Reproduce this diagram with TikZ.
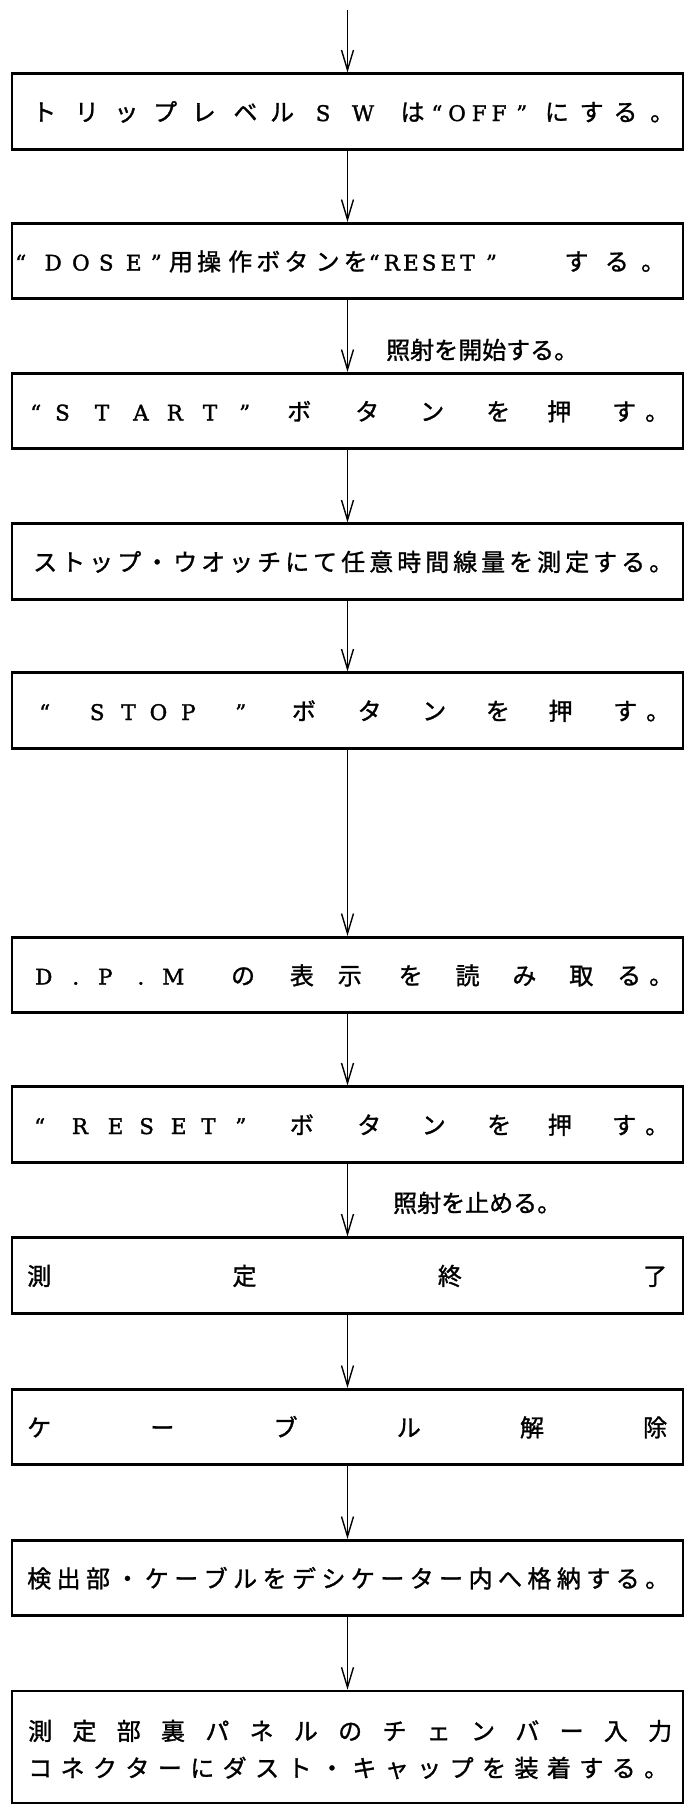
\documentclass[tikz,border=0pt]{standalone}
\usepackage{fontspec}
\setmainfont{Noto Sans CJK JP}[RawFeature={embolden=1.2}]
\newfontfamily\lat{DejaVu Serif}[RawFeature={embolden=1.5}]
\usetikzlibrary{arrows.meta}
\newcommand\G[1]{\hskip 0pt plus #1fil\relax}
\newcommand\la{\fontsize{21.5}{24}\lat}
\tikzset{
  frame/.style={draw, line width=2.6pt, rectangle, minimum width=671pt, minimum height=75.5pt, inner sep=0pt},
  lastframe/.style={frame, minimum height=112pt},
  txt/.style={anchor=base west, inner sep=0pt, font=\fontsize{24}{28}\selectfont},
  conn/.style={line width=1.3pt, -{Straight Barb[length=20pt,width=12pt,line width=1.4pt]}}
}
\begin{document}
\begin{tikzpicture}[x=1pt,y=-1pt]
\useasboundingbox (0,0) rectangle (684,1808);
\fill[white] (0,0) rectangle (684,1808);
% frames
\node[frame] (b1) at (347.5,111.5) {};
\node[frame] (b2) at (347.5,261) {};
\node[frame] (b3) at (347.5,411) {};
\node[frame] (b4) at (347.5,561.5) {};
\node[frame] (b5) at (347.5,710.5) {};
\node[frame] (b6) at (347.5,975) {};
\node[frame] (b7) at (347.5,1124.5) {};
\node[frame] (b8) at (347.5,1275.5) {};
\node[frame] (b9) at (347.5,1427) {};
\node[frame] (b10) at (347.5,1578) {};
\node[lastframe] (b11) at (347.5,1747) {};
% texts
\node[txt] (t1) at (32,121) {\hbox to 642pt{ト\G{19}リ\G{16}ッ\G{15}プ\G{15}レ\G{18}ベ\G{13}ル\G{22}{\la S}\G{22}{\la W}\G{27}は\G{7}{\la “}\G{6}{\la O}\G{6}{\la F}\G{5}{\la F}\G{10}{\la ”}\G{18}に\G{11}す\G{10}る\G{13}。}};
\node[txt] (t2) at (15,270.5) {\hbox to 650pt{{\la “}\G{18}{\la D}\G{10}{\la O}\G{9}{\la S}\G{12}{\la E}\G{9}{\la ”}\G{7}用\G{4}操\G{7}作\G{4}ボ\G{4}タ\G{7}ン\G{4}を\G{1}{\la “}\G{4}{\la R}\G{3}{\la E}\G{3}{\la S}\G{4}{\la E}\G{4}{\la T}\G{11}{\la ”}\G{66}す\G{16}る\G{12}。}};
\node[txt] (t3) at (30,420.5) {\hbox to 639pt{{\la “}\G{14}{\la S}\G{25}{\la T}\G{24}{\la A}\G{18}{\la R}\G{20}{\la T}\G{22}{\la ”}\G{37}ボ\G{44}タ\G{41}ン\G{42}を\G{37}押\G{41}す\G{9}。}};
\node[txt] (t4) at (33,571) {\hbox to 640pt{ス\G1ト\G1ッ\G1プ\G1・\G1ウ\G1オ\G1ッ\G1チ\G1に\G1て\G1任\G1意\G1時\G1間\G1線\G1量\G1を\G1測\G1定\G1す\G1る\G1。}};
\node[txt] (t5) at (39,720) {\hbox to 631pt{{\la “}\G{40}{\la S}\G{17}{\la T}\G{14}{\la O}\G{14}{\la P}\G{40}{\la ”}\G{46}ボ\G{42}タ\G{41}ン\G{40}を\G{39}押\G{41}す\G{9}。}};
\node[txt] (t6) at (35,984.5) {\hbox to 638pt{{\la D}\G{20}{\la .}\G{19}{\la P}\G{25}{\la .}\G{18}{\la M}\G{47}の\G{35}表\G{24}示\G{37}を\G{33}読\G{33}み\G{33}取\G{24}る\G{8}。}};
\node[txt] (t7) at (34,1134) {\hbox to 635pt{{\la “}\G{27}{\la R}\G{20}{\la E}\G{16}{\la S}\G{17}{\la E}\G{15}{\la T}\G{20}{\la ”}\G{44}ボ\G{44}タ\G{41}ン\G{42}を\G{37}押\G{41}す\G{9}。}};
\node[txt] (t8) at (27,1285) {\hbox to 640pt{測\G1定\G1終\G1了}};
\node[txt] (t9) at (27,1436.5) {\hbox to 640pt{ケ\G1ー\G1ブ\G1ル\G1解\G1除}};
\node[txt] (t10) at (27,1587.5) {\hbox to 642pt{検\G1出\G1部\G1・\G1ケ\G1ー\G1ブ\G1ル\G1を\G1デ\G1シ\G1ケ\G1ー\G1タ\G1ー\G1内\G1へ\G1格\G1納\G1す\G1る\G1。}};
\node[txt] (t11) at (28,1777) {\vbox{\baselineskip=37pt\lineskiplimit=-100pt
  \hbox to 644pt{測\G1定\G1部\G1裏\G1パ\G1ネ\G1ル\G1の\G1チ\G1ェ\G1ン\G1バ\G1ー\G1入\G1力}
  \hbox to 640pt{コ\G1ネ\G1ク\G1タ\G1ー\G1に\G1ダ\G1ス\G1ト\G1・\G1キ\G1ャ\G1ッ\G1プ\G1を\G1装\G1着\G1す\G1る\G1。}}};
% labels
\node[txt] (l1) at (386,359) {照射を開始する。};
\node[txt] (l2) at (393,1212) {照射を止める。};
% connectors
\coordinate (start) at (347.5,10);
\draw[conn] (start) -- (b1.north);
\draw[conn] (b1.south) -- (b2.north);
\draw[conn] (b2.south) -- (b3.north);
\draw[conn] (b3.south) -- (b4.north);
\draw[conn] (b4.south) -- (b5.north);
\draw[conn] (b5.south) -- (b6.north);
\draw[conn] (b6.south) -- (b7.north);
\draw[conn] (b7.south) -- (b8.north);
\draw[conn] (b8.south) -- (b9.north);
\draw[conn] (b9.south) -- (b10.north);
\draw[conn] (b10.south) -- (b11.north);
\end{tikzpicture}
\end{document}
